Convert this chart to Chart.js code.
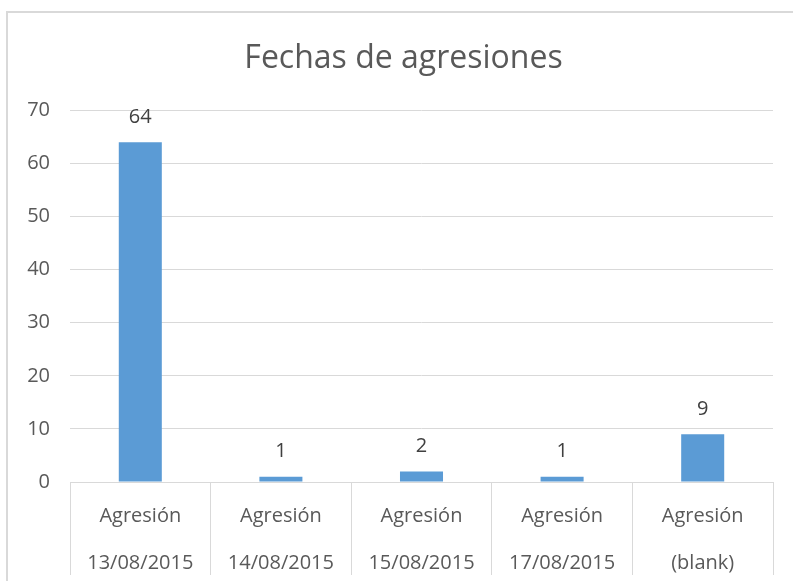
<!DOCTYPE html>
<html>
<head>
<meta charset="utf-8">
<script src="https://cdn.jsdelivr.net/npm/chart.js@4"></script>
<style>
  html, body { margin: 0; padding: 0; background: #fff; overflow: hidden; }
  #wrap { position: relative; width: 793px; height: 581px; overflow: hidden; }
  #frame {
    position: absolute; left: 6px; top: 11px; width: 900px; height: 700px;
    border: 2px solid #d9d9d9; box-sizing: border-box;
  }
  #chart { position: absolute; left: 0; top: 0; }
</style>
</head>
<body>
<div id="wrap">
  <div id="frame"></div>
  <canvas id="chart" width="807" height="581"></canvas>
</div>
<script>
// Chart data
const titleText = 'Fechas de agresiones';
const categoryNames = ['Agresión', 'Agresión', 'Agresión', 'Agresión', 'Agresión'];
const categoryDates = ['13/08/2015', '14/08/2015', '15/08/2015', '17/08/2015', '(blank)'];
const counts = [64, 1, 2, 1, 9];
const yTicks = [0, 10, 20, 30, 40, 50, 60, 70];

const textColor = '#595959';
const gridColor = '#d9d9d9';
const fontFamily = '"Open Sans", "Noto Sans", sans-serif';

const labels = categoryNames.map((name, i) => [name, categoryDates[i]]);

// Values above each bar
const valueLabels = {
  id: 'valueLabels',
  afterDatasetsDraw(chart) {
    const ctx = chart.ctx;
    const meta = chart.getDatasetMeta(0);
    ctx.save();
    ctx.font = '20px ' + fontFamily;
    ctx.fillStyle = '#404040';
    ctx.textAlign = 'center';
    ctx.textBaseline = 'middle';
    meta.data.forEach((bar, i) => {
      ctx.fillText(String(counts[i]), bar.x, bar.y - 25);
    });
    ctx.restore();
  }
};

new Chart(document.getElementById('chart'), {
  type: 'bar',
  data: {
    labels: labels,
    datasets: [{
      data: counts,
      backgroundColor: '#5b9bd5',
      borderWidth: 0,
      barPercentage: 0.306,
      categoryPercentage: 1
    }]
  },
  options: {
    responsive: false,
    animation: false,
    layout: { padding: 0 },
    plugins: {
      legend: { display: false },
      tooltip: { enabled: false },
      title: {
        display: true,
        text: titleText,
        color: textColor,
        font: { family: fontFamily, size: 32, weight: 'normal', lineHeight: 1.2 },
        padding: { top: 40, bottom: 32 }
      }
    },
    scales: {
      x: {
        offset: true,
        grid: {
          offset: true,
          drawOnChartArea: false,
          drawTicks: true,
          tickLength: 93,
          color: gridColor
        },
        border: { display: true, color: gridColor },
        ticks: {
          color: textColor,
          font: { family: fontFamily, size: 20, lineHeight: 2.35 },
          padding: -82,
          maxRotation: 0,
          autoSkip: false
        },
        afterFit(scale) { scale.height = 99; }
      },
      y: {
        min: 0,
        max: 70,
        afterBuildTicks(scale) { scale.ticks = yTicks.map(v => ({ value: v })); },
        grid: { color: gridColor, drawTicks: false },
        border: { display: false },
        ticks: {
          color: textColor,
          font: { family: fontFamily, size: 20 },
          padding: 20
        },
        afterFit(scale) { scale.width = 70; }
      },
      // empty right-hand spacer so the title centres like the original
      spacer: {
        type: 'linear',
        position: 'right',
        grid: { display: false },
        border: { display: false },
        ticks: { display: false },
        afterFit(scale) { scale.width = 34; }
      }
    }
  },
  plugins: [valueLabels]
});
</script>
</body>
</html>
